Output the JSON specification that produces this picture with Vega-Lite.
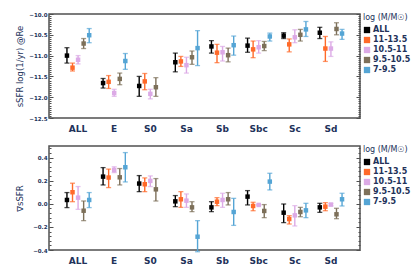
{
"$schema":"https://vega.github.io/schema/vega-lite/v6.json",
"padding":{"left":14,"top":11,"right":0,"bottom":0},
"spacing":11,
"config":{"font":"DejaVu Sans","view":{"stroke":"#505050","strokeWidth":1.5},
 "axis":{"labelColor":"#22325a","titleColor":"#22325a","grid":false,"tickColor":"#505050"},
 "legend":{"orient":"right","offset":2,"padding":0,"symbolType":"square","symbolSize":40,"symbolStrokeWidth":0,"labelFontSize":8,"labelFontWeight":"bold","labelColor":"#22325a","titleFontSize":8,"titleFontWeight":"normal","titleColor":"#22325a","rowPadding":2,"labelOffset":2,"titlePadding":4}},
"resolve":{"legend":{"color":"independent"}},
"datasets":{
"top":[
{"cat":"ALL","series":"ALL","v":-11.00,"lo":-11.18,"hi":-10.81},
{"cat":"ALL","series":"11-13.5","v":-11.29,"lo":-11.37,"hi":-11.18},
{"cat":"ALL","series":"10.5-11","v":-11.10,"lo":-11.20,"hi":-11.00},
{"cat":"ALL","series":"9.5-10.5","v":-10.71,"lo":-10.83,"hi":-10.59},
{"cat":"ALL","series":"7-9.5","v":-10.51,"lo":-10.69,"hi":-10.35},
{"cat":"E","series":"ALL","v":-11.66,"lo":-11.78,"hi":-11.55},
{"cat":"E","series":"11-13.5","v":-11.63,"lo":-11.79,"hi":-11.48},
{"cat":"E","series":"10.5-11","v":-11.90,"lo":-11.98,"hi":-11.81},
{"cat":"E","series":"9.5-10.5","v":-11.56,"lo":-11.70,"hi":-11.42},
{"cat":"E","series":"7-9.5","v":-11.13,"lo":-11.33,"hi":-10.95},
{"cat":"S0","series":"ALL","v":-11.73,"lo":-11.98,"hi":-11.50},
{"cat":"S0","series":"11-13.5","v":-11.62,"lo":-11.82,"hi":-11.43},
{"cat":"S0","series":"10.5-11","v":-11.92,"lo":-12.04,"hi":-11.81},
{"cat":"S0","series":"9.5-10.5","v":-11.76,"lo":-11.98,"hi":-11.53},
{"cat":"Sa","series":"ALL","v":-11.16,"lo":-11.39,"hi":-10.94},
{"cat":"Sa","series":"11-13.5","v":-11.14,"lo":-11.26,"hi":-11.02},
{"cat":"Sa","series":"10.5-11","v":-11.23,"lo":-11.42,"hi":-11.04},
{"cat":"Sa","series":"9.5-10.5","v":-11.04,"lo":-11.21,"hi":-10.89},
{"cat":"Sa","series":"7-9.5","v":-10.82,"lo":-11.24,"hi":-10.40},
{"cat":"Sb","series":"ALL","v":-10.78,"lo":-10.94,"hi":-10.64},
{"cat":"Sb","series":"11-13.5","v":-10.93,"lo":-11.17,"hi":-10.73},
{"cat":"Sb","series":"10.5-11","v":-10.92,"lo":-11.13,"hi":-10.78},
{"cat":"Sb","series":"9.5-10.5","v":-10.99,"lo":-11.15,"hi":-10.82},
{"cat":"Sb","series":"7-9.5","v":-10.75,"lo":-10.99,"hi":-10.53},
{"cat":"Sbc","series":"ALL","v":-10.76,"lo":-10.92,"hi":-10.58},
{"cat":"Sbc","series":"11-13.5","v":-10.85,"lo":-11.05,"hi":-10.65},
{"cat":"Sbc","series":"10.5-11","v":-10.80,"lo":-10.94,"hi":-10.64},
{"cat":"Sbc","series":"9.5-10.5","v":-10.77,"lo":-10.88,"hi":-10.66},
{"cat":"Sbc","series":"7-9.5","v":-10.54,"lo":-10.65,"hi":-10.46},
{"cat":"Sc","series":"ALL","v":-10.52,"lo":-10.59,"hi":-10.45},
{"cat":"Sc","series":"11-13.5","v":-10.73,"lo":-10.91,"hi":-10.60},
{"cat":"Sc","series":"10.5-11","v":-10.56,"lo":-10.69,"hi":-10.38},
{"cat":"Sc","series":"9.5-10.5","v":-10.50,"lo":-10.65,"hi":-10.37},
{"cat":"Sc","series":"7-9.5","v":-10.37,"lo":-10.54,"hi":-10.18},
{"cat":"Sd","series":"ALL","v":-10.45,"lo":-10.59,"hi":-10.32},
{"cat":"Sd","series":"11-13.5","v":-10.83,"lo":-11.14,"hi":-10.54},
{"cat":"Sd","series":"10.5-11","v":-10.83,"lo":-11.02,"hi":-10.67},
{"cat":"Sd","series":"9.5-10.5","v":-10.36,"lo":-10.50,"hi":-10.21},
{"cat":"Sd","series":"7-9.5","v":-10.47,"lo":-10.61,"hi":-10.37}
],
"bot":[
{"cat":"ALL","series":"ALL","v":0.033,"lo":-0.033,"hi":0.097},
{"cat":"ALL","series":"11-13.5","v":0.10,"lo":0.018,"hi":0.178},
{"cat":"ALL","series":"10.5-11","v":0.053,"lo":-0.048,"hi":0.149},
{"cat":"ALL","series":"9.5-10.5","v":-0.06,"lo":-0.146,"hi":0.024},
{"cat":"ALL","series":"7-9.5","v":0.033,"lo":-0.033,"hi":0.097},
{"cat":"E","series":"ALL","v":0.235,"lo":0.163,"hi":0.313},
{"cat":"E","series":"11-13.5","v":0.227,"lo":0.14,"hi":0.30},
{"cat":"E","series":"10.5-11","v":0.293,"lo":0.27,"hi":0.32},
{"cat":"E","series":"9.5-10.5","v":0.229,"lo":0.163,"hi":0.305},
{"cat":"E","series":"7-9.5","v":0.316,"lo":0.189,"hi":0.443},
{"cat":"S0","series":"ALL","v":0.175,"lo":0.105,"hi":0.244},
{"cat":"S0","series":"11-13.5","v":0.169,"lo":0.105,"hi":0.224},
{"cat":"S0","series":"10.5-11","v":0.198,"lo":0.149,"hi":0.241},
{"cat":"S0","series":"9.5-10.5","v":0.125,"lo":0.024,"hi":0.218},
{"cat":"Sa","series":"ALL","v":0.021,"lo":-0.025,"hi":0.071},
{"cat":"Sa","series":"11-13.5","v":0.039,"lo":-0.031,"hi":0.105},
{"cat":"Sa","series":"10.5-11","v":0.027,"lo":-0.031,"hi":0.085},
{"cat":"Sa","series":"9.5-10.5","v":-0.031,"lo":-0.068,"hi":0.018},
{"cat":"Sa","series":"7-9.5","v":-0.285,"lo":-0.415,"hi":-0.146},
{"cat":"Sb","series":"ALL","v":-0.031,"lo":-0.068,"hi":0.018},
{"cat":"Sb","series":"11-13.5","v":0.018,"lo":-0.016,"hi":0.053},
{"cat":"Sb","series":"10.5-11","v":0.033,"lo":-0.031,"hi":0.091},
{"cat":"Sb","series":"9.5-10.5","v":0.039,"lo":-0.010,"hi":0.097},
{"cat":"Sb","series":"7-9.5","v":-0.071,"lo":-0.187,"hi":0.047},
{"cat":"Sbc","series":"ALL","v":0.062,"lo":-0.010,"hi":0.114},
{"cat":"Sbc","series":"11-13.5","v":-0.019,"lo":-0.06,"hi":0.013},
{"cat":"Sbc","series":"10.5-11","v":-0.010,"lo":-0.013,"hi":-0.007},
{"cat":"Sbc","series":"9.5-10.5","v":-0.062,"lo":-0.12,"hi":-0.007},
{"cat":"Sbc","series":"7-9.5","v":0.192,"lo":0.120,"hi":0.264},
{"cat":"Sc","series":"ALL","v":-0.077,"lo":-0.163,"hi":-0.002},
{"cat":"Sc","series":"11-13.5","v":-0.132,"lo":-0.175,"hi":-0.103},
{"cat":"Sc","series":"10.5-11","v":-0.10,"lo":-0.192,"hi":-0.016},
{"cat":"Sc","series":"9.5-10.5","v":-0.071,"lo":-0.112,"hi":-0.031},
{"cat":"Sc","series":"7-9.5","v":-0.057,"lo":-0.12,"hi":0.004},
{"cat":"Sd","series":"ALL","v":-0.031,"lo":-0.074,"hi":0.004},
{"cat":"Sd","series":"11-13.5","v":-0.025,"lo":-0.060,"hi":0.010},
{"cat":"Sd","series":"10.5-11","v":-0.007,"lo":-0.017,"hi":0.003},
{"cat":"Sd","series":"9.5-10.5","v":-0.091,"lo":-0.129,"hi":-0.039},
{"cat":"Sd","series":"7-9.5","v":0.039,"lo":-0.019,"hi":0.091}
]},
"vconcat":[
{
"width":311,"height":104,
"data":{"name":"top"},
"encoding":{
 "x":{"field":"cat","type":"nominal","sort":["ALL","E","S0","Sa","Sb","Sbc","Sc","Sd"],"title":null,"scale":{"paddingInner":0.23,"paddingOuter":0.42},"axis":{"ticks":false,"domain":false,"labelAngle":0,"labelFontSize":9,"labelFontWeight":"bold","labelPadding":6}},
 "xOffset":{"field":"series","type":"nominal","scale":{"domain":["ALL","11-13.5","10.5-11","9.5-10.5","7-9.5"]}},
 "color":{"field":"series","type":"nominal","scale":{"domain":["ALL","11-13.5","10.5-11","9.5-10.5","7-9.5"],"range":["#000000","#ff6a2a","#dcaae6","#7d705a","#55a5d5"]},"legend":{"title":"log (M/M☉)"}}
},
"layer":[
 {"mark":{"type":"square","size":20,"opacity":1},"encoding":{"y":{"field":"v","type":"quantitative","scale":{"domain":[-12.5,-10],"nice":false,"zero":false},"axis":{"orient":"left","ticks":false,"domain":false,"values":[-12.5,-12,-11.5,-11,-10.5,-10],"format":".1f","labelFontSize":5.5,"labelFontWeight":"bold","labelPadding":2,"title":"sSFR  log(1/yr)  @Re","titleFontSize":8.5,"titleFontWeight":"normal","titlePadding":4}}}},
 {"mark":{"type":"rule","strokeWidth":1.4},"encoding":{"y":{"field":"lo","type":"quantitative","scale":{"domain":[-12.5,-10],"nice":false,"zero":false},"axis":{"orient":"left","labels":false,"domain":false,"title":null,"tickSize":-4,"values":[-12.5,-12,-11.5,-11,-10.5,-10]}},"y2":{"field":"hi"}}},
 {"mark":{"type":"tick","size":5,"thickness":1.3},"encoding":{"y":{"field":"lo","type":"quantitative","scale":{"domain":[-12.5,-10],"nice":false,"zero":false},"axis":{"orient":"left","labels":false,"domain":false,"title":null,"tickSize":-2,"values":[-12.45,-12.4,-12.35,-12.3,-12.25,-12.2,-12.15,-12.1,-12.05,-11.95,-11.9,-11.85,-11.8,-11.75,-11.7,-11.65,-11.6,-11.55,-11.45,-11.4,-11.35,-11.3,-11.25,-11.2,-11.15,-11.1,-11.05,-10.95,-10.9,-10.85,-10.8,-10.75,-10.7,-10.65,-10.6,-10.55,-10.45,-10.4,-10.35,-10.3,-10.25,-10.2,-10.15,-10.1,-10.05]}}}},
 {"mark":{"type":"tick","size":5,"thickness":1.3},"encoding":{"y":{"field":"hi","type":"quantitative","scale":{"domain":[-12.5,-10],"nice":false,"zero":false},"axis":{"orient":"right","labels":false,"domain":false,"title":null,"tickSize":-4,"values":[-12.5,-12,-11.5,-11,-10.5,-10]}}}},
 {"mark":{"type":"tick","size":5,"thickness":1.3,"opacity":0},"encoding":{"y":{"field":"v","type":"quantitative","scale":{"domain":[-12.5,-10],"nice":false,"zero":false},"axis":{"orient":"right","labels":false,"domain":false,"title":null,"tickSize":-2,"values":[-12.45,-12.4,-12.35,-12.3,-12.25,-12.2,-12.15,-12.1,-12.05,-11.95,-11.9,-11.85,-11.8,-11.75,-11.7,-11.65,-11.6,-11.55,-11.45,-11.4,-11.35,-11.3,-11.25,-11.2,-11.15,-11.1,-11.05,-10.95,-10.9,-10.85,-10.8,-10.75,-10.7,-10.65,-10.6,-10.55,-10.45,-10.4,-10.35,-10.3,-10.25,-10.2,-10.15,-10.1,-10.05]}}}}
],
"resolve":{"axis":{"y":"independent"}}
},
{
"width":311,"height":104,
"data":{"name":"bot"},
"encoding":{
 "x":{"field":"cat","type":"nominal","sort":["ALL","E","S0","Sa","Sb","Sbc","Sc","Sd"],"title":null,"scale":{"paddingInner":0.23,"paddingOuter":0.42},"axis":{"ticks":false,"domain":false,"labelAngle":0,"labelFontSize":9,"labelFontWeight":"bold","labelPadding":6}},
 "xOffset":{"field":"series","type":"nominal","scale":{"domain":["ALL","11-13.5","10.5-11","9.5-10.5","7-9.5"]}},
 "color":{"field":"series","type":"nominal","scale":{"domain":["ALL","11-13.5","10.5-11","9.5-10.5","7-9.5"],"range":["#000000","#ff6a2a","#dcaae6","#7d705a","#55a5d5"]},"legend":{"title":"log (M/M☉)"}}
},
"layer":[
 {"mark":{"type":"square","size":20,"opacity":1},"encoding":{"y":{"field":"v","type":"quantitative","scale":{"domain":[-0.4,0.5],"nice":false,"zero":false},"axis":{"orient":"left","ticks":false,"domain":false,"values":[-0.4,-0.2,0,0.2,0.4],"format":".1f","labelFontSize":5.5,"labelFontWeight":"bold","labelPadding":2,"title":"∇sSFR","titleFontSize":8.5,"titleFontWeight":"normal","titlePadding":8}}}},
 {"mark":{"type":"rule","strokeWidth":1.4},"encoding":{"y":{"field":"lo","type":"quantitative","scale":{"domain":[-0.4,0.5],"nice":false,"zero":false},"axis":{"orient":"left","labels":false,"domain":false,"title":null,"tickSize":-4,"values":[-0.4,-0.2,0,0.2,0.4]}},"y2":{"field":"hi"}}},
 {"mark":{"type":"tick","size":5,"thickness":1.3},"encoding":{"y":{"field":"lo","type":"quantitative","scale":{"domain":[-0.4,0.5],"nice":false,"zero":false},"axis":{"orient":"left","labels":false,"domain":false,"title":null,"tickSize":-2,"values":[-0.36,-0.32,-0.28,-0.24,-0.16,-0.12,-0.08,-0.04,0.04,0.08,0.12,0.16,0.24,0.28,0.32,0.36,0.44,0.48]}}}},
 {"mark":{"type":"tick","size":5,"thickness":1.3},"encoding":{"y":{"field":"hi","type":"quantitative","scale":{"domain":[-0.4,0.5],"nice":false,"zero":false},"axis":{"orient":"right","labels":false,"domain":false,"title":null,"tickSize":-4,"values":[-0.4,-0.2,0,0.2,0.4]}}}},
 {"mark":{"type":"tick","size":5,"thickness":1.3,"opacity":0},"encoding":{"y":{"field":"v","type":"quantitative","scale":{"domain":[-0.4,0.5],"nice":false,"zero":false},"axis":{"orient":"right","labels":false,"domain":false,"title":null,"tickSize":-2,"values":[-0.36,-0.32,-0.28,-0.24,-0.16,-0.12,-0.08,-0.04,0.04,0.08,0.12,0.16,0.24,0.28,0.32,0.36,0.44,0.48]}}}}
],
"resolve":{"axis":{"y":"independent"}}
}
]
}
